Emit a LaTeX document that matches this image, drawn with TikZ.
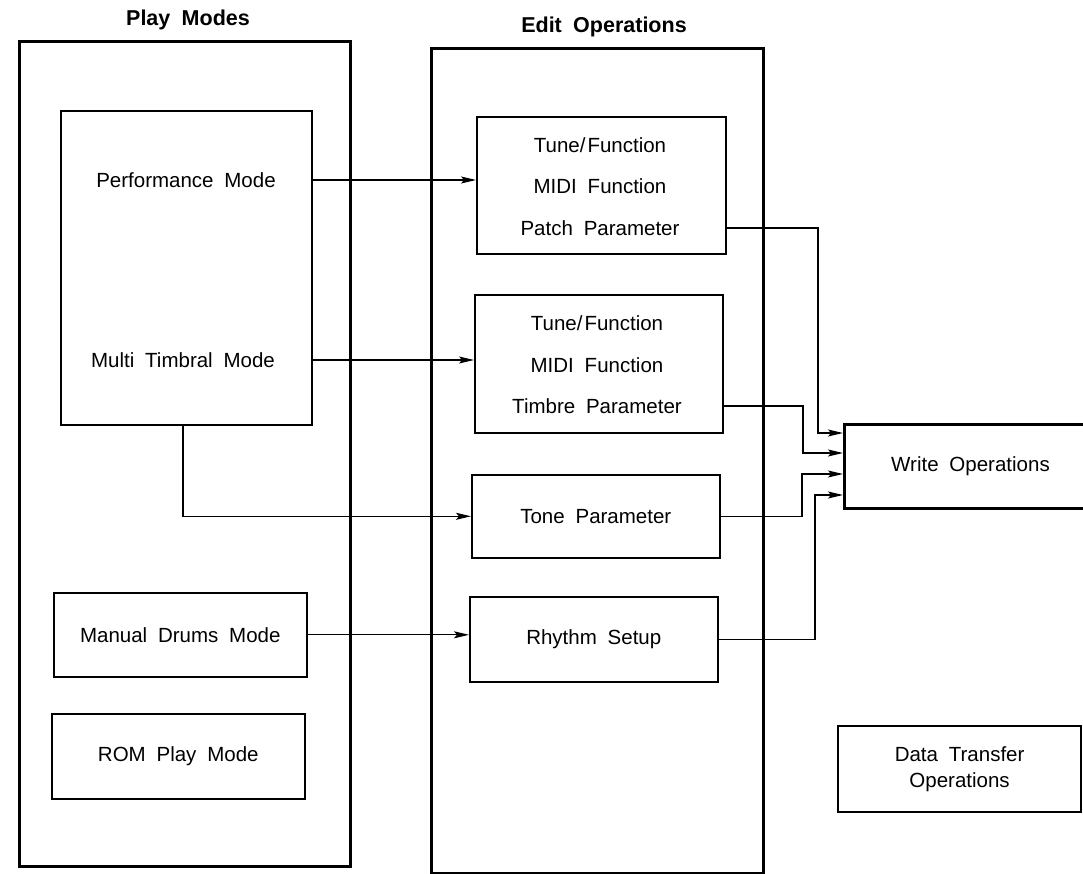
\documentclass[tikz,border=0pt]{standalone}
\usepackage{fontspec}
\setmainfont{Liberation Sans}[WordSpace=1.9]
\usetikzlibrary{arrows.meta,calc}
\begin{document}
\begin{tikzpicture}[x=1pt,y=-1pt,
  txt/.style={font=\fontsize{20.5}{24}\selectfont, inner sep=0pt},
  titletxt/.style={font=\bfseries\fontsize{21.5}{25}\selectfont, inner sep=0pt},
  outerbox/.style={draw, line width=3pt, inner sep=0pt, anchor=north west},
  innerbox/.style={draw, line width=1.6pt, inner sep=0pt, anchor=north west, font=\fontsize{20.5}{24}\selectfont, align=center},
  conn/.style={line width=1.3pt, -{Stealth[length=15pt,width=7pt,inset=3pt]}}
]
\useasboundingbox (0,0) rectangle (1083,874);

% containers
\node[outerbox, minimum width=331, minimum height=825] (play) at (18,40) {};
\node[outerbox, minimum width=332, minimum height=825] (edit) at (430,47) {};
\node[titletxt] (playt) at (188,20) {Play Modes};
\node[titletxt] (editt) at (604,27) {Edit Operations};

% play modes
\node[innerbox, minimum width=251, minimum height=314] (pm) at (60,110) {};
\node[txt] (perf) at (186,180) {Performance Mode};
\node[txt] (multi) at (183,360) {Multi Timbral Mode};
\node[innerbox, minimum width=253, minimum height=84] (manual) at (53,592) {Manual Drums Mode};
\node[innerbox, minimum width=253, minimum height=85] (rom) at (51,713) {ROM Play Mode};

% edit operations
\node[innerbox, minimum width=249, minimum height=137] (b1) at (476,116) {};
\node[txt] (l1a) at (600,145) {Tune/\kern2pt Function};
\node[txt] (l1b) at (600,186) {MIDI Function};
\node[txt] (l1c) at (600,228) {Patch Parameter};
\node[innerbox, minimum width=248, minimum height=138] (b2) at (474,294) {};
\node[txt] (l2a) at (597,323) {Tune/\kern2pt Function};
\node[txt] (l2b) at (597,365) {MIDI Function};
\node[txt] (l2c) at (597,406) {Timbre Parameter};
\node[innerbox, minimum width=248, minimum height=83] (tone) at (471,474) {Tone Parameter};
\node[innerbox, minimum width=248, minimum height=85] (rhythm) at (469,596) {Rhythm Setup};

% right side
\node[draw, line width=3pt, inner sep=0pt, anchor=north west, minimum width=252, minimum height=84, font=\fontsize{20.5}{24}\selectfont] (write) at (843,423) {Write Operations};
\node[draw, line width=2.2pt, inner sep=0pt, anchor=north west, minimum width=243, minimum height=86, align=center, font=\fontsize{20.5}{26}\selectfont] (data) at (837,725) {Data Transfer\\Operations};

\coordinate (w1) at ($(write.north west)+(0,10)$);
\coordinate (w2) at ($(write.north west)+(0,30)$);
\coordinate (w3) at ($(write.north west)+(0,51)$);
\coordinate (w4) at ($(write.north west)+(0,72)$);

% connectors
\draw[conn] (perf -| pm.east) -- (perf -| b1.west);
\draw[conn] (multi -| pm.east) -- (multi -| b2.west);
\draw[conn] (multi |- pm.south) |- (tone.west);
\draw[conn] (manual.east) -- (manual.east -| rhythm.west);

\draw[conn] (l1c -| b1.east) -| ($(w1)+(-25,0)$) -- (w1);
\draw[conn] (l2c -| b2.east) -| ($(w2)+(-40,0)$) -- (w2);
\draw[conn] (tone.east) -| ($(w3)+(-41,0)$) -- (w3);
\draw[conn] (rhythm.east) -| ($(w4)+(-28,0)$) -- (w4);
\end{tikzpicture}
\end{document}
